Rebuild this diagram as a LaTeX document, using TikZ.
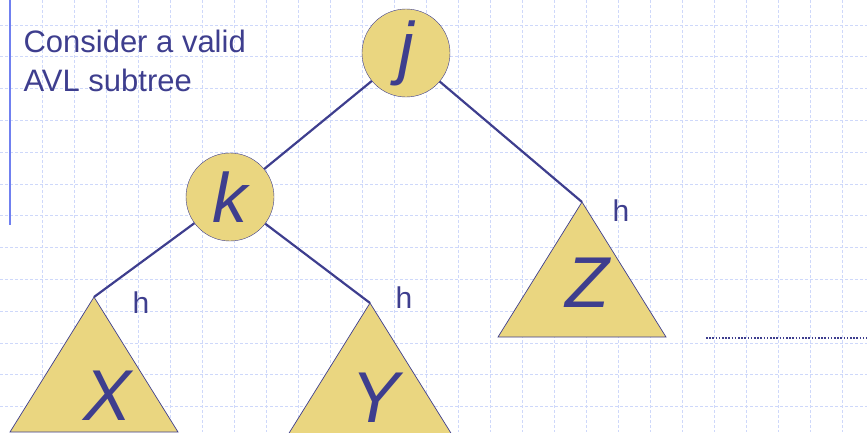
\documentclass[tikz,border=0pt]{standalone}
\usepackage{fontspec}
\setmainfont{Liberation Sans}
\usetikzlibrary{positioning}

\definecolor{avlblue}{RGB}{62,62,142}
\definecolor{avlfill}{RGB}{234,214,128}
\definecolor{gridblue}{RGB}{206,216,250}
\definecolor{barblue}{RGB}{112,128,240}

\begin{document}
\begin{tikzpicture}[
  x=1pt, y=-1pt,
  treenode/.style={circle, draw=avlblue, fill=avlfill, minimum size=88pt, inner sep=0pt,
    text=avlblue, font=\fontsize{70}{70}\selectfont\itshape},
  subtree/.style={draw=avlblue, fill=avlfill, line width=0.7pt},
  treeletter/.style={text=avlblue, font=\fontsize{72}{72}\selectfont\itshape},
  heightlabel/.style={text=avlblue, font=\fontsize{30}{30}\selectfont},
  edge/.style={draw=avlblue, line width=2.2pt}
]
  \useasboundingbox (0,0) rectangle (867,432);
  \clip (0,0) rectangle (867,432);

  % background grid
  \foreach \gx in {42,74,...,874}
    \draw[gridblue, line width=0.8pt, dash pattern=on 3pt off 2pt] (\gx,0) -- (\gx,432);
  \foreach \gy in {25,56.8,...,440}
    \draw[gridblue, line width=0.8pt, dash pattern=on 3pt off 2pt] (0,\gy) -- (867,\gy);
  \draw[barblue, line width=2pt] (10,0) -- (10,225);

  \node[anchor=base west, align=left, text=avlblue,
    font=\fontsize{31}{39}\selectfont] (title) at (20,91) {Consider a valid\\AVL subtree};

  % subtrees
  \coordinate (xtop) at (94,297);
  \coordinate (ytop) at (370,303);
  \coordinate (ztop) at (582,202);
  \fill[subtree] (xtop) -- ++(-84,135) -- ++(168,0) -- cycle;
  \fill[subtree] (ytop) -- ++(-84,135) -- ++(168,0) -- cycle;
  \fill[subtree] (ztop) -- ++(-84,135) -- ++(168,0) -- cycle;
  \node[treeletter] (xlab) at (108,396) {X};
  \node[treeletter] (ylab) at (376,398) {Y};
  \node[treeletter] (zlab) at (587,283) {Z};

  % nodes
  \node[treenode] (j) at (406,53) {j};
  \node[treenode] (k) at (230,197) {k};

  \draw[edge] (j) -- (k);
  \draw[edge] (j) -- (ztop);
  \draw[edge] (k) -- (xtop);
  \draw[edge] (k) -- (ytop);

  \node[heightlabel] (hx) at (141,303) {h};
  \node[heightlabel] (hy) at (404,298) {h};
  \node[heightlabel] (hz) at (621,211) {h};

  \coordinate (dotstart) at (706,338);
  \coordinate (dotend) at (867,338);
  \draw[avlblue, line width=1.6pt, dash pattern=on 1.6pt off 1.6pt] (dotstart) -- (dotend);
\end{tikzpicture}
\end{document}
